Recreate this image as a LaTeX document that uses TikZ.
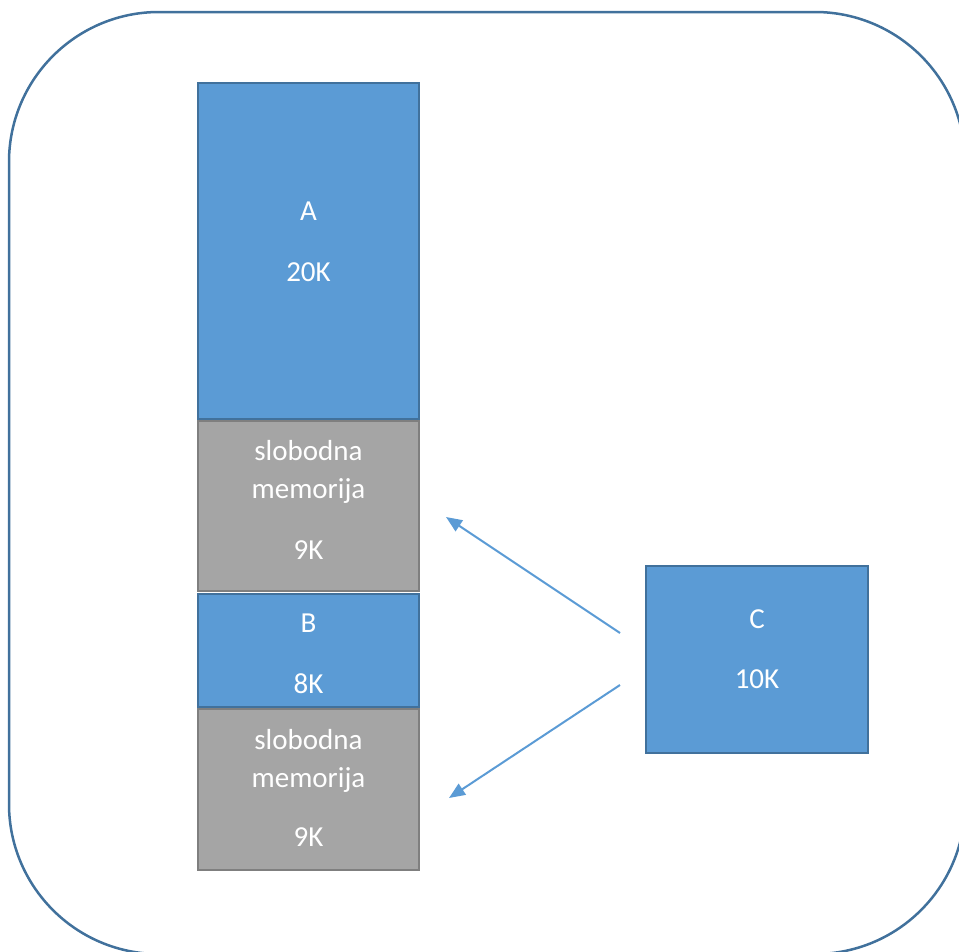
\documentclass[tikz,border=0pt]{standalone}
\usepackage{fontspec}
\setmainfont{Carlito}
\usetikzlibrary{arrows.meta}
\definecolor{blueF}{HTML}{5B9BD5}
\definecolor{blueD}{HTML}{41719C}
\definecolor{grayF}{HTML}{A5A5A5}
\definecolor{grayD}{HTML}{7F7F7F}
\begin{document}
\begin{tikzpicture}[x=1pt,y=-1pt,
  blk/.style={draw=blueD,fill=blueF,line width=2pt},
  freeblk/.style={draw=grayD,fill=grayF,line width=2pt},
  lbl/.style={text=white,font=\fontsize{29}{35}\selectfont,anchor=base,inner sep=0pt},
  arr/.style={draw=blueF,line width=2pt,-{Triangle[length=16pt,width=13pt]}}]
\useasboundingbox (0,0) rectangle (959,951);
\begin{scope}
\clip (0,0) rectangle (959,951);
\draw[blueD,line width=2.5pt,rounded corners=150pt] (9,12) rectangle (965,954);
\end{scope}
% blocks
\draw[blk] (198,83) rectangle (419,419);
\draw[freeblk] (198,421) rectangle (419,591);
\draw[blk] (198,594) rectangle (419,707);
\draw[freeblk] (198,709) rectangle (419,870);
\draw[blk] (646,566) rectangle (868,753);
\node[lbl] (tA) at (308.5,220) {A};
\node[lbl] (tA2) at (308.5,281) {20K};
\node[lbl] (tf1) at (308.5,460) {slobodna};
\node[lbl] (tf1b) at (308.5,498) {memorija};
\node[lbl] (tf1c) at (308.5,559) {9K};
\node[lbl] (tB) at (308.5,632) {B};
\node[lbl] (tB2) at (308.5,693) {8K};
\node[lbl] (tf2) at (308.5,749) {slobodna};
\node[lbl] (tf2b) at (308.5,787) {memorija};
\node[lbl] (tf2c) at (308.5,846) {9K};
\node[lbl] (tC) at (757,628) {C};
\node[lbl] (tC2) at (757,688) {10K};
% arrows
\coordinate (s1) at (620,633);
\coordinate (e1) at (446,517);
\coordinate (s2) at (620,685);
\coordinate (e2) at (449,798);
\draw[arr] (s1) -- (e1);
\draw[arr] (s2) -- (e2);
\end{tikzpicture}
\end{document}
